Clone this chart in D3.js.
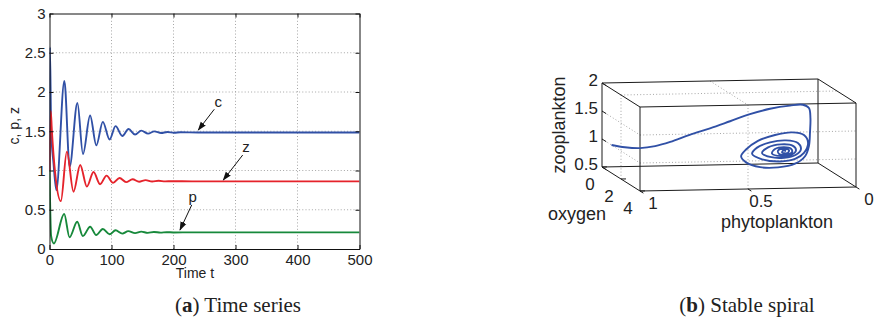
<!DOCTYPE html>
<html>
<head>
<meta charset="utf-8">
<script src="https://cdn.jsdelivr.net/npm/d3@7"></script>
<style>
  body { margin: 0; background: #fff; }
  svg { display: block; }
  .sans { font-family: "Liberation Sans", Arial, Helvetica, sans-serif; fill: #222; }
  .cap { font-family: "Liberation Serif", "Times New Roman", serif; fill: #222; }
</style>
</head>
<body>
<svg id="fig" width="885" height="324"></svg>
<script>
// ---------- Panel (a): time series of c, p, z ----------
const timeTicks = [0, 100, 200, 300, 400, 500];
const valueTicks = [0, 0.5, 1, 1.5, 2, 2.5, 3];
const valueTickLabels = ["0", "0.5", "1", "1.5", "2", "2.5", "3"];

// c (peaks / troughs of the damped oscillation)
const cTime  = [0, 0.7, 2.7, 6.5, 11, 24, 32.5, 45, 54, 65.5, 75.5, 86, 97, 106.5, 117.5, 127.5, 138, 148, 159, 169, 180, 190, 201, 211, 240, 500];
const cValue = [1.00, 2.57, 1.51, 1.09, 0.75, 2.14, 1.05, 1.86, 1.21, 1.70, 1.32, 1.62, 1.395, 1.565, 1.44, 1.528, 1.458, 1.508, 1.47, 1.498, 1.477, 1.491, 1.481, 1.487, 1.485, 1.485];

// z
const zTime  = [0, 2, 3.8, 9.2, 18.3, 28, 38.7, 49.5, 60.3, 71, 81.5, 92, 102.5, 113, 123.5, 134, 144.5, 155, 165.5, 176, 186.5, 197, 230, 500];
const zValue = [1.00, 1.76, 1.51, 0.96, 0.61, 1.24, 0.73, 1.07, 0.795, 0.98, 0.825, 0.935, 0.843, 0.905, 0.852, 0.888, 0.857, 0.877, 0.859, 0.869, 0.861, 0.864, 0.862, 0.862];

// p
const pTime  = [0, 1.2, 2.5, 7, 23.7, 32.3, 44.7, 53.8, 65.6, 75.3, 86, 97, 106.5, 117.5, 127, 138, 148, 158.5, 168.5, 179, 189, 200, 230, 500];
const pValue = [1.00, 0.50, 0.17, 0.07, 0.445, 0.149, 0.347, 0.165, 0.284, 0.178, 0.254, 0.187, 0.238, 0.196, 0.228, 0.202, 0.221, 0.206, 0.217, 0.209, 0.214, 0.211, 0.212, 0.212];

// ---------- Panel (b): phase-space trajectory (phytoplankton, oxygen, zooplankton) ----------
const phytoTicks = [1, 0.5, 0];
const phytoTickLabels = ["1", "0.5", "0"];
const oxygenTicks = [0, 2, 4];
const oxygenTickLabels = ["0", "2", "4"];
const zooTicks = [0.5, 1, 1.5, 2];
const zooTickLabels = ["0.5", "1", "1.5", "2"];

const trajPhyto = [1.00, 0.96, 0.89, 0.82, 0.75, 0.66, 0.566, 0.473, 0.381, 0.288, 0.196, 0.136, 0.108, 0.101, 0.103, 0.108, 0.126, 0.172, 0.251, 0.334, 0.399, 0.422, 0.399, 0.344, 0.265, 0.186, 0.131, 0.112, 0.131, 0.172, 0.242, 0.325, 0.371, 0.348, 0.288, 0.214, 0.159, 0.145, 0.168, 0.223, 0.288, 0.325, 0.297, 0.237, 0.182, 0.168, 0.191, 0.237, 0.279, 0.265, 0.223, 0.191, 0.186, 0.209, 0.246, 0.251, 0.223, 0.200, 0.209, 0.232, 0.227, 0.214];
const trajOxygen = [1.0, 1.5, 1.5, 1.5, 1.5, 1.5, 1.5, 1.5, 1.5, 1.5, 1.5, 1.5, 1.5, 1.5, 1.5, 1.5, 1.5, 1.5, 1.5, 1.5, 1.5, 1.5, 1.5, 1.5, 1.5, 1.5, 1.5, 1.5, 1.5, 1.5, 1.5, 1.5, 1.5, 1.5, 1.5, 1.5, 1.5, 1.5, 1.5, 1.5, 1.5, 1.5, 1.5, 1.5, 1.5, 1.5, 1.5, 1.5, 1.5, 1.5, 1.5, 1.5, 1.5, 1.5, 1.5, 1.5, 1.5, 1.5, 1.5, 1.5, 1.5, 1.5];
const trajZoo = [1.00, 1.01, 0.99, 1.02, 1.09, 1.21, 1.32, 1.44, 1.56, 1.65, 1.70, 1.71, 1.65, 1.47, 1.22, 0.97, 0.79, 0.66, 0.60, 0.61, 0.70, 0.81, 0.93, 1.08, 1.18, 1.22, 1.17, 1.03, 0.85, 0.745, 0.705, 0.75, 0.85, 0.96, 1.05, 1.08, 1.03, 0.92, 0.82, 0.77, 0.79, 0.86, 0.96, 1.01, 0.98, 0.90, 0.82, 0.80, 0.85, 0.93, 0.96, 0.93, 0.87, 0.83, 0.84, 0.90, 0.93, 0.90, 0.85, 0.865, 0.90, 0.89];

const BLUE = "#3050a6", RED = "#e5232b", GREEN = "#17893b";
const GRID = "#9c9c9c";

const svg = d3.select("#fig");

// ======== Panel (a) ========
const x = d3.scaleLinear().domain([0, 500]).range([49.5, 359.5]);
const y = d3.scaleLinear().domain([0, 3]).range([249, 13.5]);
const gA = svg.append("g");

// dotted grid
gA.append("g").selectAll("line").data(timeTicks.slice(1, -1)).join("line")
  .attr("x1", d => x(d)).attr("x2", d => x(d))
  .attr("y1", y(0)).attr("y2", y(3))
  .attr("stroke", GRID).attr("stroke-width", 0.9).attr("stroke-dasharray", "1,2.2");
gA.append("g").selectAll("line").data(valueTicks.slice(1, -1)).join("line")
  .attr("y1", d => y(d)).attr("y2", d => y(d))
  .attr("x1", x(0)).attr("x2", x(500))
  .attr("stroke", GRID).attr("stroke-width", 0.9).attr("stroke-dasharray", "1,2.2");

svg.append("clipPath").attr("id", "clipA").append("rect")
  .attr("x", x(0)).attr("y", y(3))
  .attr("width", x(500) - x(0)).attr("height", y(0) - y(3));

const seriesA = [
  { t: cTime, v: cValue, color: BLUE },
  { t: zTime, v: zValue, color: RED },
  { t: pTime, v: pValue, color: GREEN }
];
const lineA = d3.line().x(d => x(d[0])).y(d => y(d[1])).curve(d3.curveMonotoneX);
gA.append("g").attr("clip-path", "url(#clipA)")
  .selectAll("path").data(seriesA).join("path")
  .attr("d", s => lineA(d3.zip(s.t, s.v)))
  .attr("fill", "none").attr("stroke", s => s.color)
  .attr("stroke-width", 1.9).attr("stroke-linejoin", "round");

function styleAxis(g, fs) {
  g.attr("font-family", "Liberation Sans, Arial, Helvetica, sans-serif").attr("font-size", fs);
  g.selectAll("path.domain").attr("stroke", "#111").attr("stroke-width", 1);
  g.selectAll(".tick line").attr("stroke", "#111");
  g.selectAll(".tick text").attr("fill", "#222");
}

gA.append("g").attr("transform", `translate(0,${y(0)})`)
  .call(d3.axisBottom(x).tickValues(timeTicks).tickSizeInner(-4).tickSizeOuter(0).tickPadding(5))
  .call(g => styleAxis(g, 15));
gA.append("g").attr("transform", `translate(0,${y(3)})`)
  .call(d3.axisTop(x).tickValues(timeTicks).tickFormat("").tickSizeInner(-4).tickSizeOuter(0))
  .call(g => styleAxis(g, 15));
gA.append("g").attr("transform", `translate(${x(0)},0)`)
  .call(d3.axisLeft(y).tickValues(valueTicks).tickFormat((d, i) => valueTickLabels[i]).tickSizeInner(-4).tickSizeOuter(0).tickPadding(4))
  .call(g => styleAxis(g, 15));
gA.append("g").attr("transform", `translate(${x(500)},0)`)
  .call(d3.axisRight(y).tickValues(valueTicks).tickFormat("").tickSizeInner(-4).tickSizeOuter(0))
  .call(g => styleAxis(g, 15));

// axis titles
gA.append("text").attr("class", "sans").attr("font-size", 14)
  .attr("x", x(250) - 0.5 * (x(250) - x(200)) + 6).attr("y", 278).attr("text-anchor", "middle")
  .text("Time t");
gA.append("text").attr("class", "sans").attr("font-size", 14)
  .attr("transform", `translate(19,${y(1.57)}) rotate(-90)`).attr("text-anchor", "middle")
  .text("c, p, z");

// curve annotations with arrows
svg.append("defs").append("marker")
  .attr("id", "arrowHead").attr("viewBox", "0 0 10 10").attr("refX", 9).attr("refY", 5)
  .attr("markerWidth", 9).attr("markerHeight", 9).attr("markerUnits", "userSpaceOnUse")
  .attr("orient", "auto")
  .append("path").attr("d", "M0,1.5 L10,5 L0,8.5 Z").attr("fill", "#111");

const notes = [
  { label: "c", at: [272, 1.876], from: [265.8, 1.78], to: [240, 1.516] },
  { label: "z", at: [317, 1.303], from: [311.6, 1.197], to: [280.3, 0.879] },
  { label: "p", at: [231, 0.666], from: [229.4, 0.561], to: [210.5, 0.242] }
];
notes.forEach(n => {
  gA.append("line")
    .attr("x1", x(n.from[0])).attr("y1", y(n.from[1]))
    .attr("x2", x(n.to[0])).attr("y2", y(n.to[1]))
    .attr("stroke", "#111").attr("stroke-width", 1).attr("marker-end", "url(#arrowHead)");
  gA.append("text").attr("class", "sans").attr("font-size", 15)
    .attr("x", x(n.at[0])).attr("y", y(n.at[1])).attr("dy", "0.35em")
    .attr("text-anchor", "middle").text(n.label);
});

// ======== Panel (b): 3-D box with oblique view ========
const origin3 = [602, 167];             // screen position of (phyto=1, oxygen=0, zoo=0.5)
const axPhyto = [216, -4];              // screen vector spanning the phytoplankton range
const axOxy = [38, 24];                 // screen vector spanning the oxygen range
const axZoo = [0, -84];                 // screen vector spanning the zooplankton range
const sPhyto = d3.scaleLinear().domain([1, 0]).range([0, 1]);
const sOxy = d3.scaleLinear().domain([0, 4]).range([0, 1]);
const sZoo = d3.scaleLinear().domain([0.5, 2]).range([0, 1]);
function proj(p, o, z) {
  const a = sPhyto(p), b = sOxy(o), c = sZoo(z);
  return [origin3[0] + a * axPhyto[0] + b * axOxy[0] + c * axZoo[0],
          origin3[1] + a * axPhyto[1] + b * axOxy[1] + c * axZoo[1]];
}
const gB = svg.append("g");
const seg = (g, p1, p2, attrs) => {
  const a = proj(...p1), b = proj(...p2);
  const l = g.append("line").attr("x1", a[0]).attr("y1", a[1]).attr("x2", b[0]).attr("y2", b[1]);
  Object.entries(attrs).forEach(([k, v]) => l.attr(k, v));
  return l;
};
const gridAttr = { stroke: GRID, "stroke-width": 0.9, "stroke-dasharray": "1,2.2" };
const [pMax, pMin] = [phytoTicks[0], phytoTicks[phytoTicks.length - 1]];
const [oMin, oMax] = [oxygenTicks[0], oxygenTicks[oxygenTicks.length - 1]];
const [zMin, zMax] = [zooTicks[0], zooTicks[zooTicks.length - 1]];
const innerP = phytoTicks.slice(1, -1), innerO = oxygenTicks.slice(1, -1), innerZ = zooTicks.slice(1, -1);

// grid on the ceiling (zoo = max)
innerP.forEach(p => seg(gB, [p, oMin, zMax], [p, oMax, zMax], gridAttr));
innerO.forEach(o => seg(gB, [pMax, o, zMax], [pMin, o, zMax], gridAttr));
// grid on the phyto = 1 wall
innerO.forEach(o => seg(gB, [pMax, o, zMin], [pMax, o, zMax], gridAttr));
innerZ.forEach(z => seg(gB, [pMax, oMin, z], [pMax, oMax, z], gridAttr));
// grid on the oxygen = max wall
innerP.forEach(p => seg(gB, [p, oMax, zMin], [p, oMax, zMax], gridAttr));
innerZ.forEach(z => seg(gB, [pMax, oMax, z], [pMin, oMax, z], gridAttr));

// box edges
const edgeAttr = { stroke: "#1a1a1a", "stroke-width": 1 };
[pMax, pMin].forEach(p => [oMin, oMax].forEach(o => seg(gB, [p, o, zMin], [p, o, zMax], edgeAttr)));
[pMax, pMin].forEach(p => [zMin, zMax].forEach(z => seg(gB, [p, oMin, z], [p, oMax, z], edgeAttr)));
[oMin, oMax].forEach(o => [zMin, zMax].forEach(z => seg(gB, [pMax, o, z], [pMin, o, z], edgeAttr)));

// tick marks
const tick = (pt, dir, len) => {
  const n = Math.hypot(dir[0], dir[1]);
  gB.append("line").attr("x1", pt[0]).attr("y1", pt[1])
    .attr("x2", pt[0] + dir[0] / n * len).attr("y2", pt[1] + dir[1] / n * len)
    .attr("stroke", "#1a1a1a").attr("stroke-width", 1);
};
zooTicks.forEach(z => tick(proj(pMax, oMin, z), axOxy, 5));
oxygenTicks.forEach(o => tick(proj(pMax, o, zMin), axPhyto, 5));
phytoTicks.forEach(p => tick(proj(p, oMax, zMin), axOxy, 4));

// tick labels
const lab3 = (pt, dx, dy, txt, anchor) => gB.append("text").attr("class", "sans").attr("font-size", 17)
  .attr("x", pt[0] + dx).attr("y", pt[1] + dy).attr("dy", "0.35em")
  .attr("text-anchor", anchor).text(txt);
zooTicks.forEach((z, i) => lab3(proj(pMax, oMin, z), -4, -3, zooTickLabels[i], "end"));
oxygenTicks.forEach((o, i) => lab3(proj(pMax, o, zMin), -12, 17, oxygenTickLabels[i], "middle"));
phytoTicks.forEach((p, i) => lab3(proj(p, oMax, zMin), 13, 12, phytoTickLabels[i], "middle"));

// axis titles
gB.append("text").attr("class", "sans").attr("font-size", 18)
  .attr("transform", "translate(559,125) rotate(-90)").attr("dy", "0.35em")
  .attr("text-anchor", "middle").text("zooplankton");
gB.append("text").attr("class", "sans").attr("font-size", 18)
  .attr("x", 577).attr("y", 214).attr("dy", "0.35em").attr("text-anchor", "middle").text("oxygen");
gB.append("text").attr("class", "sans").attr("font-size", 18)
  .attr("x", 777).attr("y", 222).attr("dy", "0.35em").attr("text-anchor", "middle").text("phytoplankton");

// trajectory
const trajPts = d3.range(trajPhyto.length).map(i => proj(trajPhyto[i], trajOxygen[i], trajZoo[i]));
gB.append("path").attr("d", d3.line().curve(d3.curveCatmullRom.alpha(0.5))(trajPts))
  .attr("fill", "none").attr("stroke", BLUE).attr("stroke-width", 1.9)
  .attr("stroke-linejoin", "round");

// ======== Captions ========
const caption = (cx, letter, rest) => {
  const t = svg.append("text").attr("class", "cap").attr("font-size", 21)
    .attr("x", cx).attr("y", 312).attr("text-anchor", "middle");
  t.append("tspan").text("(");
  t.append("tspan").attr("font-weight", "bold").text(letter);
  t.append("tspan").text(") " + rest);
};
caption(238, "a", "Time series");
caption(747, "b", "Stable spiral");
</script>
</body>
</html>
